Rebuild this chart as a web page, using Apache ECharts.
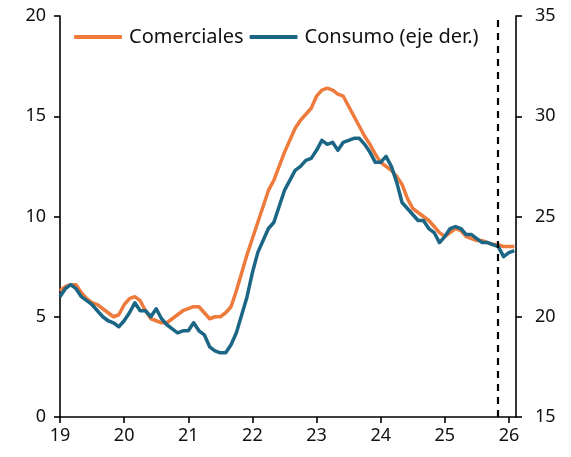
<!DOCTYPE html>
<html>
<head>
<meta charset="utf-8">
<script src="https://cdn.jsdelivr.net/npm/echarts@6/dist/echarts.min.js"></script>
<style>
  html, body { margin: 0; padding: 0; background: #fff; }
  #chart { width: 571px; height: 457px; }
</style>
</head>
<body>
<div id="chart"></div>
<script>
// Monthly series, January 2019 to February 2026 (year axis shown as two digits)
const startYear = 19;
const yearTicks = [19, 20, 21, 22, 23, 24, 25, 26];

// Comerciales (left axis, %)
const comerciales = [
  6.3, 6.5, 6.6, 6.6, 6.2, 5.9, 5.7, 5.6, 5.4, 5.2, 5.0, 5.1,
  5.6, 5.9, 6.0, 5.8, 5.3, 4.9, 4.8, 4.7, 4.7, 4.9, 5.1, 5.3,
  5.4, 5.5, 5.5, 5.2, 4.9, 5.0, 5.0, 5.2, 5.5, 6.3, 7.2, 8.1,
  8.9, 9.7, 10.5, 11.3, 11.8, 12.5, 13.2, 13.8, 14.4, 14.8, 15.1, 15.4,
  16.0, 16.3, 16.4, 16.3, 16.1, 16.0, 15.5, 15.0, 14.5, 14.0, 13.6, 13.1,
  12.7, 12.5, 12.3, 12.0, 11.6, 10.9, 10.4, 10.2, 10.0, 9.8, 9.5, 9.2,
  9.0, 9.2, 9.4, 9.3, 9.0, 8.9, 8.8, 8.8, 8.7, 8.6, 8.6, 8.5,
  8.5, 8.5
];

// Consumo (right axis, %)
const consumo = [
  21.0, 21.4, 21.6, 21.4, 21.0, 20.8, 20.6, 20.3, 20.0, 19.8, 19.7, 19.5,
  19.8, 20.2, 20.7, 20.3, 20.3, 20.0, 20.4, 19.9, 19.6, 19.4, 19.2, 19.3,
  19.3, 19.7, 19.3, 19.1, 18.5, 18.3, 18.2, 18.2, 18.6, 19.2, 20.1, 21.0,
  22.2, 23.2, 23.8, 24.4, 24.7, 25.5, 26.3, 26.8, 27.3, 27.5, 27.8, 27.9,
  28.3, 28.8, 28.6, 28.7, 28.3, 28.7, 28.8, 28.9, 28.9, 28.6, 28.2, 27.7,
  27.7, 28.0, 27.5, 26.7, 25.7, 25.4, 25.1, 24.8, 24.8, 24.4, 24.2, 23.7,
  24.0, 24.4, 24.5, 24.4, 24.1, 24.1, 23.9, 23.7, 23.7, 23.6, 23.5, 23.0,
  23.2, 23.3
];

// Month index of the dashed reference line (November 2025)
const markerMonth = 82;

const seriesNames = ['Comerciales', 'Consumo (eje der.)'];
const colors = ['#EE7A3C', '#1B6585'];

const toPairs = arr => arr.map((v, i) => [startYear + i / 12, v]);

const font = 'Noto Sans';
const chart = echarts.init(document.getElementById('chart'), null, { renderer: 'canvas' });

const axisLineStyle = { color: '#000', width: 1.6 };

chart.setOption({
  animation: false,
  backgroundColor: '#fff',
  textStyle: { fontFamily: font },
  grid: { left: 60, right: 55, top: 16, bottom: 40 },
  legend: {
    top: 22,
    left: 69,
    itemGap: 6,
    itemWidth: 48,
    itemHeight: 4,
    icon: 'roundRect',
    textStyle: { fontSize: 20, color: '#111', fontFamily: font, padding: [0, 0, 0, 2] },
    data: seriesNames
  },
  xAxis: {
    type: 'value',
    min: startYear,
    max: 26.11,
    axisLine: { show: true, lineStyle: axisLineStyle },
    axisTick: { show: true, length: 6, lineStyle: axisLineStyle, customValues: yearTicks },
    axisLabel: { customValues: yearTicks, color: '#111', fontSize: 18, margin: 10, fontFamily: font,
      formatter: v => String(Math.round(v)) },
    splitLine: { show: false }
  },
  yAxis: [
    {
      type: 'value', min: 0, max: 20, interval: 5, position: 'left',
      axisLine: { show: true, lineStyle: axisLineStyle },
      axisTick: { show: true, length: 6, lineStyle: axisLineStyle },
      axisLabel: { color: '#111', fontSize: 18, margin: 14, fontFamily: font },
      splitLine: { show: false }
    },
    {
      type: 'value', min: 15, max: 35, interval: 5, position: 'right',
      axisLine: { show: true, lineStyle: axisLineStyle },
      axisTick: { show: true, length: 6, lineStyle: axisLineStyle },
      axisLabel: { color: '#111', fontSize: 18, margin: 19, fontFamily: font },
      splitLine: { show: false }
    }
  ],
  series: [
    {
      name: seriesNames[0], type: 'line', yAxisIndex: 0, z: 2,
      data: toPairs(comerciales), showSymbol: false, symbol: 'none',
      lineStyle: { color: colors[0], width: 3.5, join: 'round' },
      itemStyle: { color: colors[0] },
      markLine: {
        silent: true, symbol: 'none', label: { show: false },
        lineStyle: { color: '#000', width: 2.2, type: [7, 6] },
        data: [{ xAxis: startYear + markerMonth / 12 }]
      }
    },
    {
      name: seriesNames[1], type: 'line', yAxisIndex: 1, z: 3,
      data: toPairs(consumo), showSymbol: false, symbol: 'none',
      lineStyle: { color: colors[1], width: 3.5, join: 'round' },
      itemStyle: { color: colors[1] }
    }
  ]
});
</script>
</body>
</html>
